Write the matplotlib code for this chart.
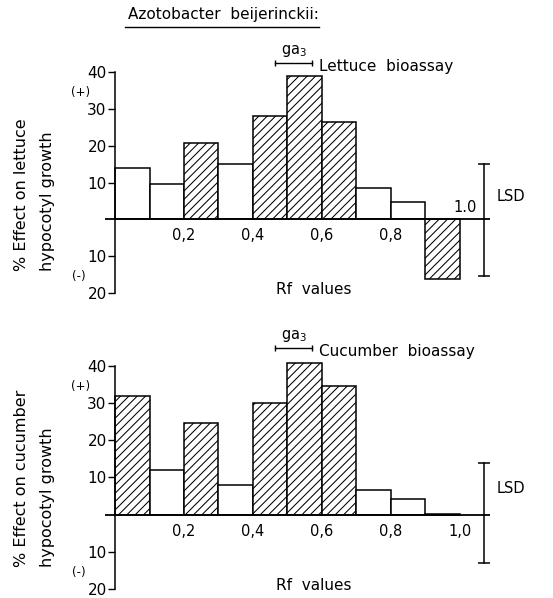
import matplotlib
matplotlib.use("Agg")
import matplotlib.pyplot as plt
from matplotlib.lines import Line2D

# ---------------------------------------------------------
#  Data
# ---------------------------------------------------------
rf_left = [0.0, 0.1, 0.2, 0.3, 0.4, 0.5, 0.6, 0.7, 0.8, 0.9]
rf_ticks = [0.2, 0.4, 0.6, 0.8, 1.0]

lettuce = [14.0, 9.7, 20.8, 15.0, 28.2, 38.8, 26.5, 8.5, 4.7, -16.2]
lettuce_active = [False, False, True, False, True, True, True, False, False, True]
lettuce_lsd = (15.0, -15.5)
lettuce_ga3 = (0.465, 0.57, 42.5)

cucumber = [31.9, 12.0, 24.7, 8.1, 30.1, 40.9, 34.5, 6.7, 4.3, 0.3]
cucumber_active = [True, False, True, False, True, True, True, False, False, False]
cucumber_lsd = (14.0, -13.0)
cucumber_ga3 = (0.465, 0.57, 44.8)

y_ticks = [40, 30, 20, 10, -10, -20]

W, H = 553, 598
FS = 10.5
plt.rcParams["hatch.linewidth"] = 0.75
plt.rcParams["font.family"] = "DejaVu Sans"


def px_axes(fig, x0, x1, y_top, y_bot):
    # pixel box -> figure fraction
    return fig.add_axes([x0 / W, 1 - y_bot / H, (x1 - x0) / W, (y_bot - y_top) / H])


def draw_panel(ax, values, active, lsd, ga3, assay, ylab1, ylab2, one_above):
    ax.set_xlim(-0.029, 1.087)
    ax.set_ylim(-20, 48)

    for x, v, a in zip(rf_left, values, active):
        ax.bar(x, v, width=0.1, align="edge", facecolor="white", edgecolor="black",
               linewidth=1.1, hatch="////" if a else None, zorder=2)

    ax.axhline(0, color="black", linewidth=1.3, zorder=3)

    for s in ["top", "right", "bottom"]:
        ax.spines[s].set_visible(False)
    ax.spines["left"].set_position(("data", 0))
    ax.spines["left"].set_bounds(-20, 40)
    ax.spines["left"].set_linewidth(1.1)
    ax.set_yticks(y_ticks)
    ax.set_yticklabels([str(abs(t)) for t in y_ticks], fontsize=FS + 0.5)
    ax.tick_params(axis="y", direction="out", length=5, width=1, pad=1)
    ax.set_xticks([])

    for t in rf_ticks:
        lab = f"{t:.1f}".replace(".", ",")
        if one_above and t == 1.0:
            ax.text(t + 0.015, 1.3, "1.0", ha="center", va="bottom", fontsize=FS)
        else:
            ax.text(t, -2.4, lab, ha="center", va="top", fontsize=FS)

    # LSD bar
    ax.plot([1.07, 1.07], [lsd[1], lsd[0]], color="black", lw=1.1,
            marker="_", markersize=9, mew=1.1, clip_on=False)
    ax.text(1.105, (lsd[0] + lsd[1]) / 2 + 6.5, "LSD", fontsize=FS, va="center",
            ha="left", clip_on=False)

    # GA3 reference
    ax.plot([ga3[0], ga3[1]], [ga3[2], ga3[2]], color="black", lw=1.0,
            marker="|", markersize=5, mew=1.0, clip_on=False)
    ax.text((ga3[0] + ga3[1]) / 2, ga3[2] + 1.0, "ga$_3$", ha="center", va="bottom",
            fontsize=FS, clip_on=False)
    ax.text(ga3[1] + 0.022, ga3[2] - 1.0, assay, ha="left", va="center",
            fontsize=FS + 0.5, clip_on=False)

    ax.text(-0.1, 34.5, "(+)", fontsize=FS - 2, ha="center", va="center")
    ax.text(-0.105, -15.5, "(-)", fontsize=FS - 2, ha="center", va="center")
    ax.text(0.575, -19.0, "Rf  values", fontsize=FS + 0.5, ha="center", va="center")

    # two-line y label, bottom aligned
    ax.text(-0.27, -14, ylab1, rotation=90, fontsize=FS + 1, ha="center", va="bottom")
    ax.text(-0.195, -14, ylab2, rotation=90, fontsize=FS + 1, ha="center", va="bottom")


fig = plt.figure(figsize=(W / 100, H / 100), dpi=100)

# top panel: y=40 at 72px, y=-20 at 293px
ax1 = px_axes(fig, 105, 490, 72 - 8 * 3.675, 293)
draw_panel(ax1, lettuce, lettuce_active, lettuce_lsd, lettuce_ga3,
           "Lettuce  bioassay", "% Effect on lettuce", "hypocotyl growth", True)

# bottom panel: y=40 at 366px, y=-20 at 589px
ax2 = px_axes(fig, 105, 490, 366 - 8 * 3.72, 589)
draw_panel(ax2, cucumber, cucumber_active, cucumber_lsd, cucumber_ga3,
           "Cucumber  bioassay", "% Effect on cucumber", "hypocotyl growth", False)

# title, underlined
fig.text(223 / W, 1 - 15 / H, "Azotobacter  beijerinckii:", ha="center", va="center",
         fontsize=FS + 0.5)
fig.add_artist(Line2D([125 / W, 319 / W], [1 - 27 / H, 1 - 27 / H], color="black", lw=1.0))

fig.savefig("out.png", dpi=100)
